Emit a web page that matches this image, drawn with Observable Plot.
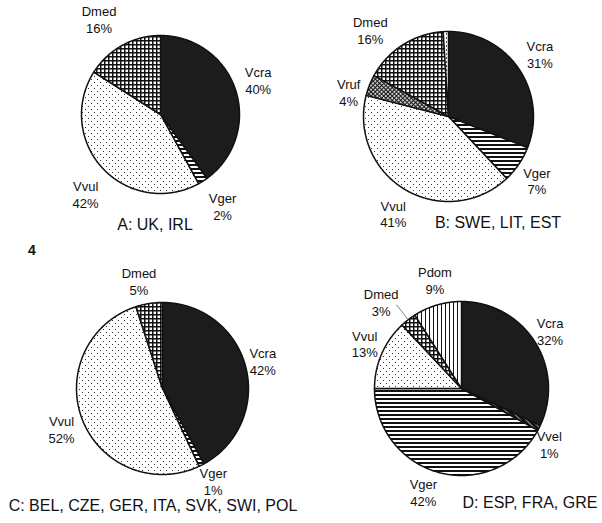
<!DOCTYPE html>
<html><head><meta charset="utf-8">
<script src="https://cdn.jsdelivr.net/npm/d3@7"></script>
<script src="https://cdn.jsdelivr.net/npm/@observablehq/plot@0.6"></script>
<style>
body{margin:0;background:#fff;font-family:"Liberation Sans",Arial,Helvetica,sans-serif;color:#111}
#wrap{position:relative;width:602px;height:523px;overflow:hidden}
.cell{position:absolute}
.title{position:absolute;width:400px;text-align:center;font-size:16px;line-height:18px;white-space:nowrap}
.fig{position:absolute;font-size:14px;font-weight:bold;line-height:16px}
</style></head><body>
<svg width="0" height="0" style="position:absolute">
<defs>
  <pattern id="p-Vger" width="4" height="4" patternUnits="userSpaceOnUse" patternTransform="translate(-0.5,-0.5)">
    <rect width="4" height="4" fill="#fff"/><rect width="4" height="2" fill="#111"/>
  </pattern>
  <pattern id="p-Vvel" width="4" height="4" patternUnits="userSpaceOnUse" patternTransform="translate(-0.5,-0.5) rotate(45)">
    <rect width="4" height="4" fill="#111"/><rect width="4" height="0.6" fill="#fff"/>
  </pattern>
  <pattern id="p-Vvul" width="6" height="6" patternUnits="userSpaceOnUse" patternTransform="translate(-0.5,-0.5)">
    <rect width="6" height="6" fill="#fff"/>
    <rect x="1" y="1" width="1" height="1" fill="#333"/>
    <rect x="4" y="4" width="1" height="1" fill="#333"/>
  </pattern>
  <pattern id="p-other" width="4" height="4" patternUnits="userSpaceOnUse" patternTransform="translate(-0.5,-0.5)">
    <rect width="4" height="4" fill="#fff"/>
    <rect x="1" y="1" width="1" height="2" fill="#555"/>
  </pattern>
  <pattern id="p-Dmed" width="4" height="4" patternUnits="userSpaceOnUse" patternTransform="translate(-0.5,-0.5)">
    <rect width="4" height="4" fill="#111"/>
    <rect x="1.5" y="1.5" width="2.5" height="2.5" fill="#fff"/>
  </pattern>
  <pattern id="p-Vruf" width="3" height="3" patternUnits="userSpaceOnUse" patternTransform="translate(-0.5,-0.5) rotate(45)">
    <rect width="3" height="3" fill="#1a1a1a"/>
    <rect x="1" y="1" width="1.8" height="1.8" fill="#f2f2f2"/>
  </pattern>
  <pattern id="p-Pdom" width="4" height="4" patternUnits="userSpaceOnUse" patternTransform="translate(-0.5,-0.5)">
    <rect width="4" height="4" fill="#fff"/><rect width="1" height="4" fill="#111"/>
  </pattern>
</defs>
</svg>
<div id="wrap"></div>
<script>
// ---- data ----
const speciesA = ["Vcra", "Vger", "Vvul", "Dmed"];
const shareA = [40, 2, 42, 16];
const speciesB = ["Vcra", "Vger", "Vvul", "Vruf", "Dmed", "other"];
const shareB = [31, 7, 41, 4, 16, 1];
const speciesC = ["Vcra", "Vger", "Vvul", "Dmed"];
const shareC = [42, 1, 52, 5];
const speciesD = ["Vcra", "Vvel", "Vger", "Vvul", "Dmed", "Pdom"];
const shareD = [32, 1, 42, 13, 3, 9];
const titles = ["A: UK, IRL", "B: SWE, LIT, EST", "C: BEL, CZE, GER, ITA, SVK, SWI, POL", "D: ESP, FRA, GRE"];
const figureNumber = "4";

// ---- styles / layout ----
const fills = {Vcra: "#1c1c1c"};
const fillOf = s => fills[s] || `url(#p-${s})`;
const panels = [
  {species: speciesA, share: shareA, title: titles[0], left: 0, top: 0, w: 301, h: 262, cx: 160, cy: 114, r: 79, tx: 155, ty: 225,
   nudge: {Vger: [7, 5], Vvul: [0, 9], Dmed: [-12, -5], Vcra: [0, -3]}, leaders: []},
  {species: speciesB, share: shareB, title: titles[1], left: 301, top: 0, w: 301, h: 262, cx: 147, cy: 116, r: 85, tx: 197, ty: 223,
   nudge: {Vger: [-3, 2], Vvul: [1, 2], Vruf: [3, 16], Dmed: [-19, 7]}, leaders: []},
  {species: speciesC, share: shareC, title: titles[2], left: 0, top: 262, w: 301, h: 261, cx: 162, cy: 126, r: 86, tx: 153, ty: 244,
   nudge: {Vcra: [-8, 0], Vger: [0, -7], Vvul: [3, -1], Dmed: [-6, 3]}, leaders: []},
  {species: speciesD, share: shareD, title: titles[3], left: 301, top: 262, w: 301, h: 261, cx: 160, cy: 126, r: 87, tx: 229, ty: 241,
   nudge: {Vcra: [-7, 3], Vvel: [-13, 4], Vger: [-10, -6], Vvul: [7, 0], Dmed: [-11, 3], Pdom: [5, 0]}, leaders: ["Dmed"]}
];
const K = 1.3;

const wrap = document.getElementById("wrap");
for (const p of panels) {
  const rows = p.species.map((s, i) => ({species: s, value: p.share[i]}));
  const arcs = d3.pie().sort(null).value(d => d.value).startAngle(0).endAngle(2 * Math.PI)(rows);
  const sliceMarks = arcs.map(a => {
    const n = Math.max(2, Math.ceil((a.endAngle - a.startAngle) / (Math.PI / 360)));
    const pts = [{x: 0, y: 0}];
    for (let j = 0; j <= n; j++) {
      const t = a.startAngle + (a.endAngle - a.startAngle) * j / n;
      pts.push({x: Math.sin(t), y: -Math.cos(t)});
    }
    pts.push({x: 0, y: 0});
    return Plot.line(pts, {x: "x", y: "y", fill: fillOf(a.data.species), stroke: "#111", strokeWidth: 1.5, strokeLinejoin: "round"});
  });
  const labels = arcs.filter(a => a.data.species !== "other").map(a => {
    const m = (a.startAngle + a.endAngle) / 2;
    const nd = p.nudge[a.data.species] || [0, 0];
    return {text: `${a.data.species}\n${a.data.value}%`, x: K * Math.sin(m) + nd[0] / p.r, y: -K * Math.cos(m) + nd[1] / p.r};
  });
  const leaders = arcs.filter(a => p.leaders.includes(a.data.species)).map(a => {
    const m = (a.startAngle + a.endAngle) / 2;
    return {x1: Math.sin(m), y1: -Math.cos(m), x2: 1.22 * Math.sin(m), y2: -1.22 * Math.cos(m)};
  });
  const chart = Plot.plot({
    width: p.w, height: p.h, margin: 0,
    style: {background: "transparent", overflow: "visible"},
    x: {domain: [-1, 1], range: [p.cx - p.r, p.cx + p.r], axis: null},
    y: {domain: [-1, 1], range: [p.cy - p.r, p.cy + p.r], axis: null},
    marks: [
      ...sliceMarks,
      Plot.link(leaders, {x1: "x1", y1: "y1", x2: "x2", y2: "y2", stroke: "#333", strokeWidth: 0.6}),
      Plot.text(labels, {x: "x", y: "y", text: "text", fontSize: 13, lineHeight: 1.3, fill: "#111", fontFamily: "Liberation Sans, Arial, sans-serif"})
    ]
  });
  const cell = document.createElement("div");
  cell.className = "cell";
  cell.style.left = p.left + "px"; cell.style.top = p.top + "px";
  cell.appendChild(chart);
  wrap.appendChild(cell);
  const t = document.createElement("div");
  t.className = "title";
  t.textContent = p.title;
  t.style.left = (p.left + p.tx - 200) + "px";
  t.style.top = (p.top + p.ty - 9) + "px";
  wrap.appendChild(t);
}
const fig = document.createElement("div");
fig.className = "fig";
fig.textContent = figureNumber;
fig.style.left = "28px"; fig.style.top = "242px";
wrap.appendChild(fig);
</script>
</body></html>
